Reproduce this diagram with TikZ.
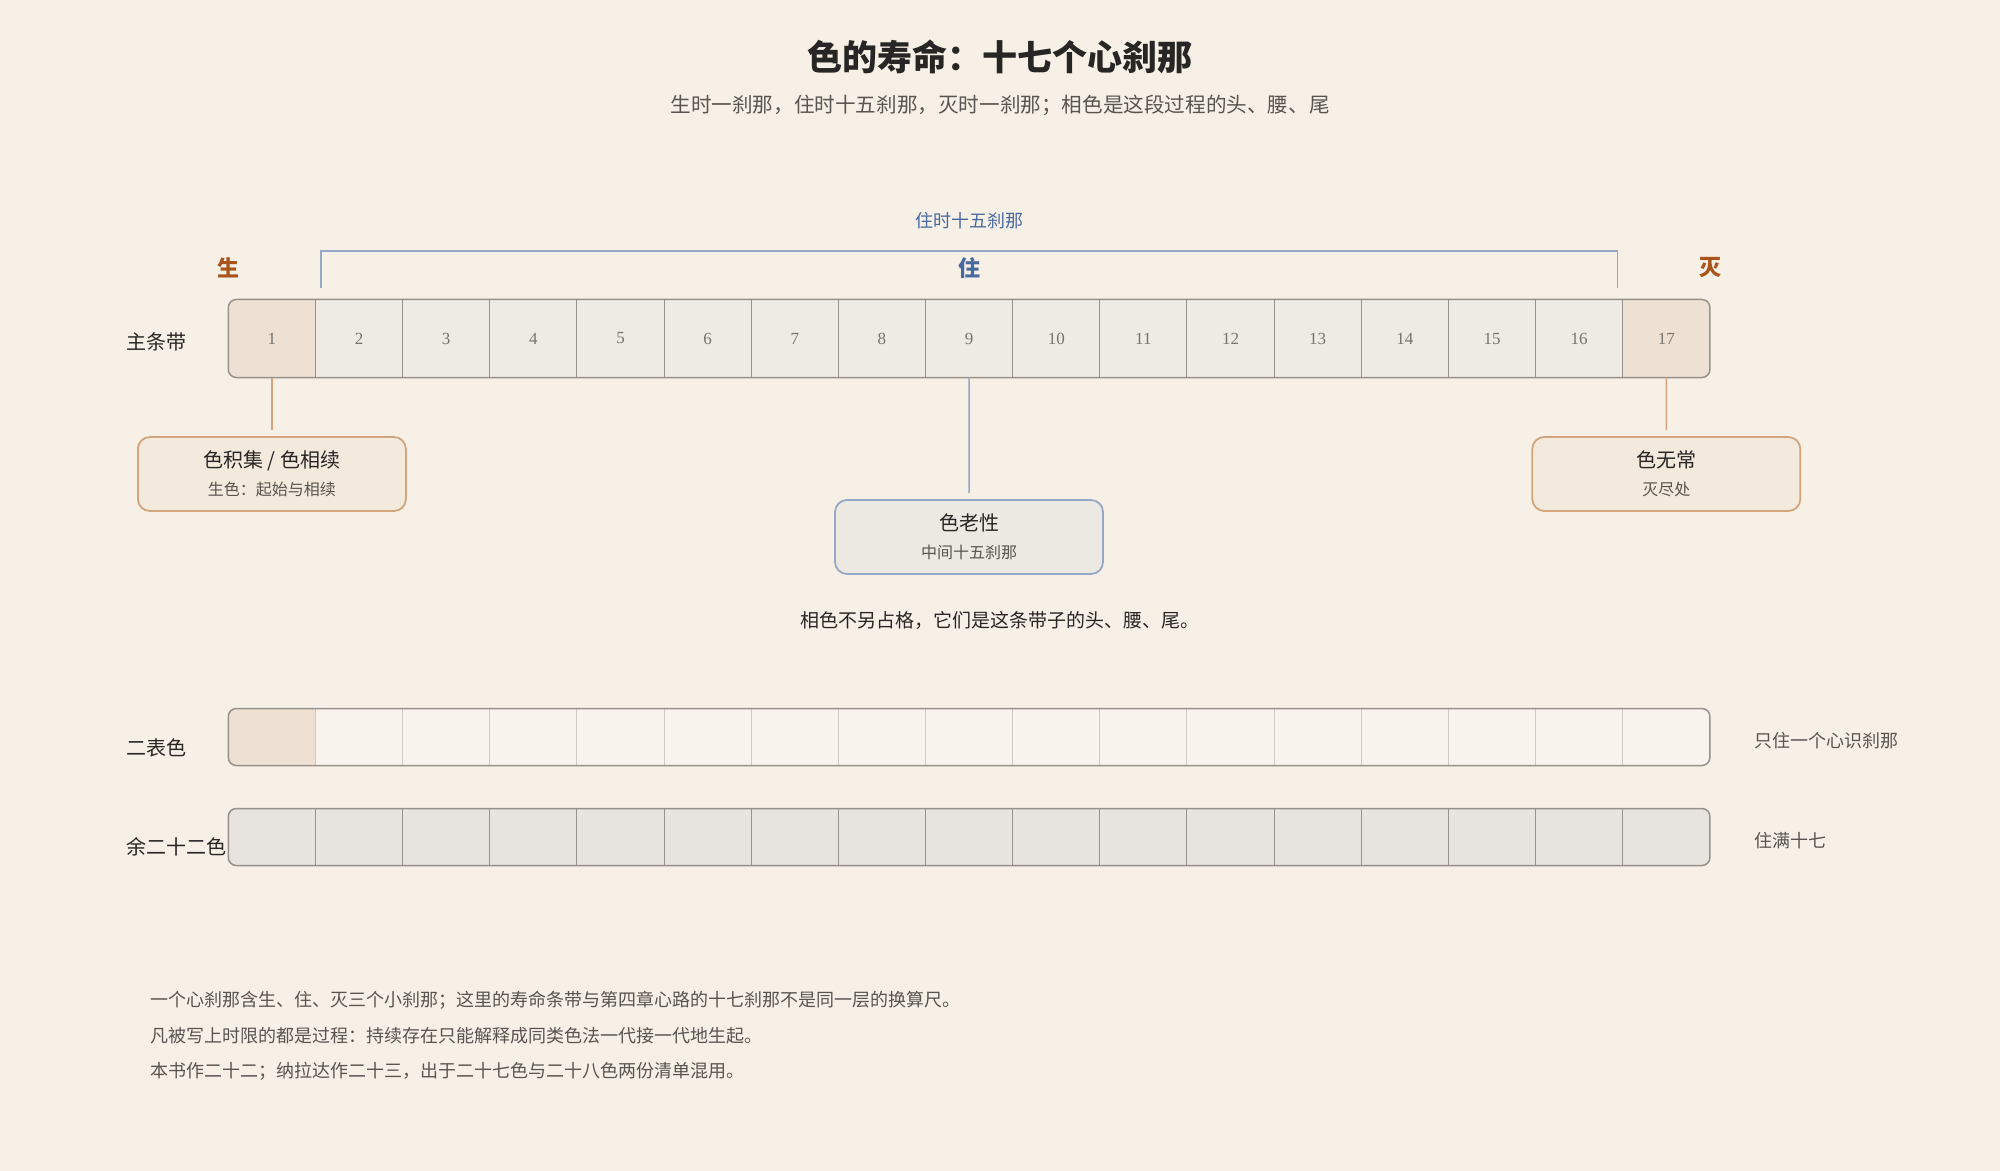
\documentclass[tikz,border=0pt]{standalone}
\usepackage{fontspec}
\setmainfont{Noto Sans CJK SC}
\newfontfamily\numfont{Liberation Serif}
\usepackage{tikz}
\usetikzlibrary{positioning}
\definecolor{paper}{RGB}{247,240,230}
\definecolor{ink}{RGB}{40,38,36}
\definecolor{softInk}{RGB}{88,84,80}
\definecolor{numInk}{RGB}{120,115,110}
\definecolor{cellGrey}{RGB}{238,234,228}
\definecolor{cellTan}{RGB}{238,225,212}
\definecolor{cellPale}{RGB}{248,243,236}
\definecolor{cellDim}{RGB}{231,227,223}
\definecolor{cellLine}{RGB}{150,145,138}
\definecolor{paleLine}{RGB}{210,202,192}
\definecolor{warmFill}{RGB}{243,233,221}
\definecolor{warmLine}{RGB}{212,164,124}
\definecolor{coolFill}{RGB}{236,232,226}
\definecolor{coolLine}{RGB}{150,168,198}
\definecolor{stayBlue}{RGB}{72,105,160}
\definecolor{birthRust}{RGB}{168,84,26}
\tikzset{%
  % Specifications for style of nodes:
          cell/.style = {rectangle, draw=cellLine, line width=0.5pt,
                         minimum width=43.575pt, inner sep=0pt, outer sep=0pt,
                         font=\numfont\fontsize{8.5}{10}\selectfont, text=numInk},
      mainCell/.style = {cell, minimum height=39pt, fill=cellGrey},
       tanCell/.style = {fill=cellTan},
      thinCell/.style = {cell, minimum height=28.5pt},
      paleCell/.style = {thinCell, fill=cellPale, draw=paleLine},
       dimCell/.style = {thinCell, fill=cellDim},
       bandRim/.style = {draw=cellLine, line width=0.75pt, rounded corners=4pt},
       infoBox/.style = {rectangle, rounded corners=6pt, line width=0.9pt,
                         minimum width=134pt, minimum height=37pt, text=ink,
                         align=center, font=\fontsize{10}{14}\selectfont},
       warmBox/.style = {infoBox, draw=warmLine, fill=warmFill},
       coolBox/.style = {infoBox, draw=coolLine, fill=coolFill},
      warmLink/.style = {draw=warmLine, line width=0.75pt, shorten >=3pt},
      coolLink/.style = {draw=coolLine, line width=0.75pt, shorten >=3pt},
      bandName/.style = {anchor=west, inner sep=0pt, text=ink,
                         font=\fontsize{10}{12}\selectfont},
      sideNote/.style = {anchor=west, inner sep=0pt, text=softInk,
                         font=\fontsize{9}{11}\selectfont},
      footNote/.style = {anchor=west, inner sep=0pt, text=softInk,
                         font=\fontsize{9}{11}\selectfont},
     phaseMark/.style = {font=\fontsize{11}{13}\selectfont\bfseries},
}
\newcommand{\boxsub}[1]{{\fontsize{8}{14}\selectfont\color{softInk}#1}}

\begin{document}
\begin{tikzpicture}[x=0.5pt, y=-0.5pt]
  \useasboundingbox[fill=paper] (0,0) rectangle (2000,1171);
  % Specification of nodes (position, etc.)
  \node (title)    [text=ink, font=\fontsize{17.5}{20}\selectfont\bfseries]
                   at (1000,57)  {色的寿命：十七个心刹那};
  \node (subtitle) [text=softInk, font=\fontsize{10.3}{12}\selectfont]
                   at (1000,105) {生时一刹那，住时十五刹那，灭时一刹那；相色是这段过程的头、腰、尾};

  % main band
  \begin{scope}
    \clip[rounded corners=4pt] (228.3,299.5) rectangle (1709.8,377.5);
    \node (m1) [mainCell, tanCell] at (271.9,338.5) {1};
    \foreach \i [remember=\i as \j (initially 1)] in {2,...,16}
      \node (m\i) [mainCell, right=0pt of m\j] {\i};
    \node (m17) [mainCell, tanCell, right=0pt of m16] {17};
  \end{scope}
  \draw[bandRim] (m1.north west) rectangle (m17.south east);

  % two-signifier band
  \begin{scope}
    \clip[rounded corners=4pt] (228.3,708.5) rectangle (1709.8,765.5);
    \node (t1) [thinCell, tanCell] at (271.9,737) {};
    \foreach \i [remember=\i as \j (initially 1)] in {2,...,17}
      \node (t\i) [paleCell, right=0pt of t\j] {};
  \end{scope}
  \draw[bandRim] (t1.north west) rectangle (t17.south east);

  % remaining band
  \begin{scope}
    \clip[rounded corners=4pt] (228.3,808.5) rectangle (1709.8,865.5);
    \node (r1) [dimCell] at (271.9,837) {};
    \foreach \i [remember=\i as \j (initially 1)] in {2,...,17}
      \node (r\i) [dimCell, right=0pt of r\j] {};
  \end{scope}
  \draw[bandRim] (r1.north west) rectangle (r17.south east);

  \node (mainName)  [bandName] at (126,342)   {主条带};
  \node (pairName)  [bandName] at (126,747.5) {二表色};
  \node (restName)  [bandName] at (126,847)   {余二十二色};
  \node (pairNote)  [sideNote] at (1754,741)  {只住一个心识刹那};
  \node (restNote)  [sideNote] at (1754,840.5){住满十七};

  % phases above the band
  \coordinate (stayTop) at (969,251);
  \draw[coolLink, shorten >=0pt]
     ([xshift=2.65pt, yshift=5.75pt]m2.north west) |- (stayTop)
     -| ([xshift=-2.65pt, yshift=5.75pt]m16.north east);
  \node (stayNote)  [text=stayBlue, font=\fontsize{9}{11}\selectfont]
                    at (969,221)  {住时十五刹那};
  \node (stayMark)  [phaseMark, text=stayBlue]  at (969,268)  {住};
  \node (birthMark) [phaseMark, text=birthRust] at (228,268)  {生};
  \node (endMark)   [phaseMark, text=birthRust] at (1710,268) {灭};

  % boxes under the band
  \node (birthBox) [warmBox] at (271.9,474)
        {色积集 / 色相续\\\boxsub{生色：起始与相续}};
  \node (ageBox)   [coolBox] at (969,537)
        {色老性\\\boxsub{中间十五刹那}};
  \node (endBox)   [warmBox] at (1666.3,474)
        {色无常\\\boxsub{灭尽处}};
  \draw[warmLink] (m1.south)  -- (birthBox.north);
  \draw[coolLink] (m9.south)  -- (ageBox.north);
  \draw[warmLink] (m17.south) -- (endBox.north);

  \node (bandNote) [text=ink, font=\fontsize{9.5}{11}\selectfont]
                   at (1000,620) {相色不另占格，它们是这条带子的头、腰、尾。};

  \node (fn1) [footNote] at (150.5,1000)
        {一个心刹那含生、住、灭三个小刹那；这里的寿命条带与第四章心路的十七刹那不是同一层的换算尺。};
  \node (fn2) [footNote, below=17.85pt of fn1.west, anchor=west]
        {凡被写上时限的都是过程：持续存在只能解释成同类色法一代接一代地生起。};
  \node (fn3) [footNote, below=17.85pt of fn2.west, anchor=west]
        {本书作二十二；纳拉达作二十三，出于二十七色与二十八色两份清单混用。};
\end{tikzpicture}
\end{document}
